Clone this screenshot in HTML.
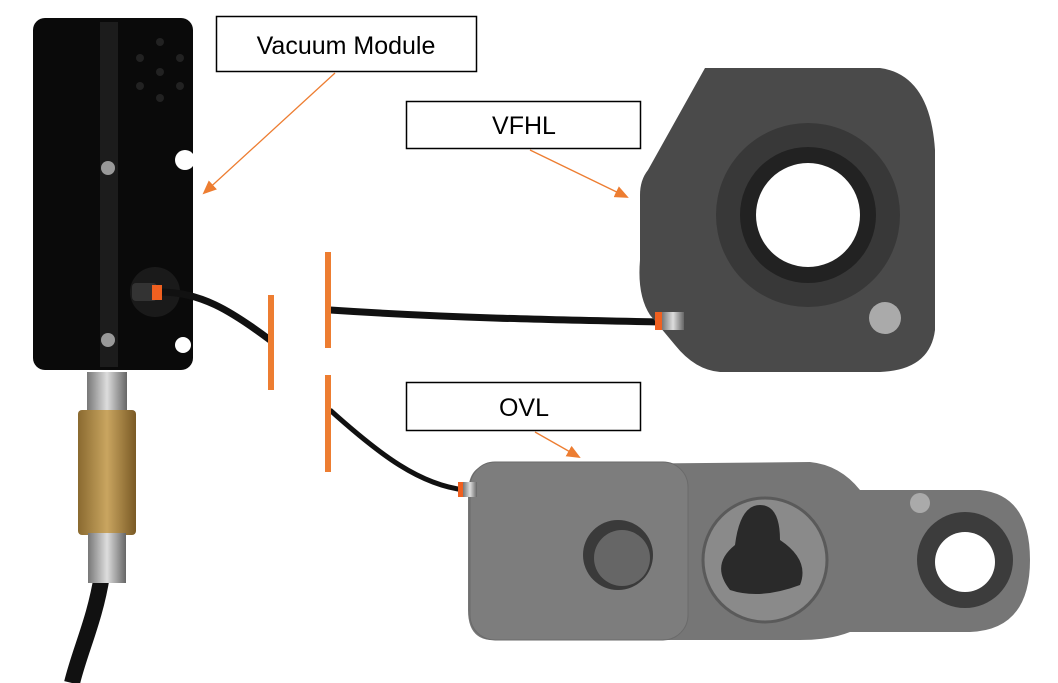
<!DOCTYPE html><html><head><style>body{margin:0;background:#fff}svg{display:block}text{font-family:"Liberation Sans",sans-serif}</style></head><body>
<svg width="1058" height="683" viewBox="0 0 1058 683" xmlns="http://www.w3.org/2000/svg">
<defs><marker id="a" markerWidth="14" markerHeight="12" refX="12" refY="6" orient="auto" markerUnits="userSpaceOnUse"><path d="M0,0L14,6L0,12z" fill="#ed7d31"/></marker>
<linearGradient id="br" x1="0" x2="1"><stop offset="0" stop-color="#8a6a30"/><stop offset=".5" stop-color="#c9a560"/><stop offset="1" stop-color="#7a5a25"/></linearGradient>
<linearGradient id="sv" x1="0" x2="1"><stop offset="0" stop-color="#777"/><stop offset=".5" stop-color="#ddd"/><stop offset="1" stop-color="#666"/></linearGradient></defs>
<path d="M102,575 C95,620 80,650 72,683" stroke="#111" stroke-width="16" fill="none"/>
<rect x="87" y="372" width="40" height="40" fill="url(#sv)"/>
<rect x="78" y="410" width="58" height="125" rx="4" fill="url(#br)"/>
<rect x="88" y="533" width="38" height="50" fill="url(#sv)"/>
<rect x="33" y="18" width="160" height="352" rx="12" fill="#0a0a0a"/>
<rect x="100" y="22" width="18" height="345" fill="#1c1c1c"/>
<circle cx="185" cy="160" r="10" fill="#fff"/>
<circle cx="183" cy="345" r="8" fill="#fff"/>
<g fill="#222"><circle cx="160" cy="42" r="4"/><circle cx="140" cy="58" r="4"/><circle cx="180" cy="58" r="4"/><circle cx="160" cy="72" r="4"/><circle cx="140" cy="86" r="4"/><circle cx="180" cy="86" r="4"/><circle cx="160" cy="98" r="4"/></g>
<circle cx="108" cy="168" r="7" fill="#999"/><circle cx="108" cy="340" r="7" fill="#999"/>
<circle cx="155" cy="292" r="25" fill="#1a1a1a"/>
<rect x="132" y="283" width="25" height="18" rx="4" fill="#333"/>
<path d="M160,292 C200,292 230,310 270,340" stroke="#111" stroke-width="7" fill="none"/>
<path d="M330,310 C450,318 560,320 660,322" stroke="#111" stroke-width="7" fill="none"/>
<path d="M330,410 C380,455 420,485 465,490" stroke="#111" stroke-width="5" fill="none"/>
<rect x="152" y="285" width="10" height="15" fill="#f06020"/>
<rect x="268" y="295" width="6" height="95" fill="#ed7d31"/>
<rect x="325" y="252" width="6" height="96" fill="#ed7d31"/>
<rect x="325" y="375" width="6" height="97" fill="#ed7d31"/>
<!-- VFHL -->
<path d="M705,68 L880,68 Q930,75 935,150 L935,330 Q930,370 880,372 L720,372 Q695,370 675,345 L650,315 Q637,295 640,260 L640,195 Q640,180 648,170 Z" fill="#4a4a4a"/>
<circle cx="808" cy="215" r="92" fill="#383838"/>
<circle cx="808" cy="215" r="68" fill="#222"/>
<circle cx="808" cy="215" r="52" fill="#fff"/>
<circle cx="885" cy="318" r="16" fill="#aaa"/>
<rect x="655" y="312" width="8" height="18" fill="#f06020"/><rect x="662" y="312" width="22" height="18" fill="url(#sv)"/>
<!-- OVL -->
<path d="M490,465 L810,462 Q840,465 860,490 L980,490 Q1030,495 1030,560 Q1030,630 970,632 L850,632 Q830,640 800,640 L490,640 Q468,638 468,610 L468,490 Q470,465 490,465Z" fill="#767676"/>
<rect x="470" y="462" width="218" height="178" rx="25" fill="#7d7d7d" stroke="#6a6a6a"/>
<circle cx="618" cy="555" r="35" fill="#3a3a3a"/><circle cx="622" cy="558" r="28" fill="#666"/>
<circle cx="765" cy="560" r="62" fill="#8a8a8a" stroke="#5a5a5a" stroke-width="3"/>
<path d="M760,505 Q780,505 780,540 Q810,560 800,585 Q760,600 730,590 Q710,565 735,545 Q740,505 760,505Z" fill="#2a2a2a"/>
<circle cx="965" cy="560" r="48" fill="#3c3c3c"/><circle cx="965" cy="562" r="30" fill="#fff"/>
<circle cx="920" cy="503" r="10" fill="#aaa"/>
<rect x="458" y="482" width="6" height="15" fill="#f06020"/><rect x="463" y="482" width="14" height="15" fill="url(#sv)"/>
<rect x="216.5" y="16.5" width="260" height="55" fill="#fff" stroke="#000" stroke-width="1.5"/>
<text x="346" y="54" font-size="25" text-anchor="middle">Vacuum Module</text>
<rect x="406.5" y="101.5" width="234" height="47" fill="#fff" stroke="#000" stroke-width="1.5"/>
<text x="524" y="134" font-size="25" text-anchor="middle">VFHL</text>
<rect x="406.5" y="382.5" width="234" height="48" fill="#fff" stroke="#000" stroke-width="1.5"/>
<text x="524" y="416" font-size="25" text-anchor="middle">OVL</text>
<line x1="335" y1="73" x2="204" y2="193" stroke="#ed7d31" stroke-width="1.3" marker-end="url(#a)"/>
<line x1="530" y1="150" x2="627" y2="197" stroke="#ed7d31" stroke-width="1.3" marker-end="url(#a)"/>
<line x1="535" y1="432" x2="579" y2="457" stroke="#ed7d31" stroke-width="1.3" marker-end="url(#a)"/>
</svg></body></html>
